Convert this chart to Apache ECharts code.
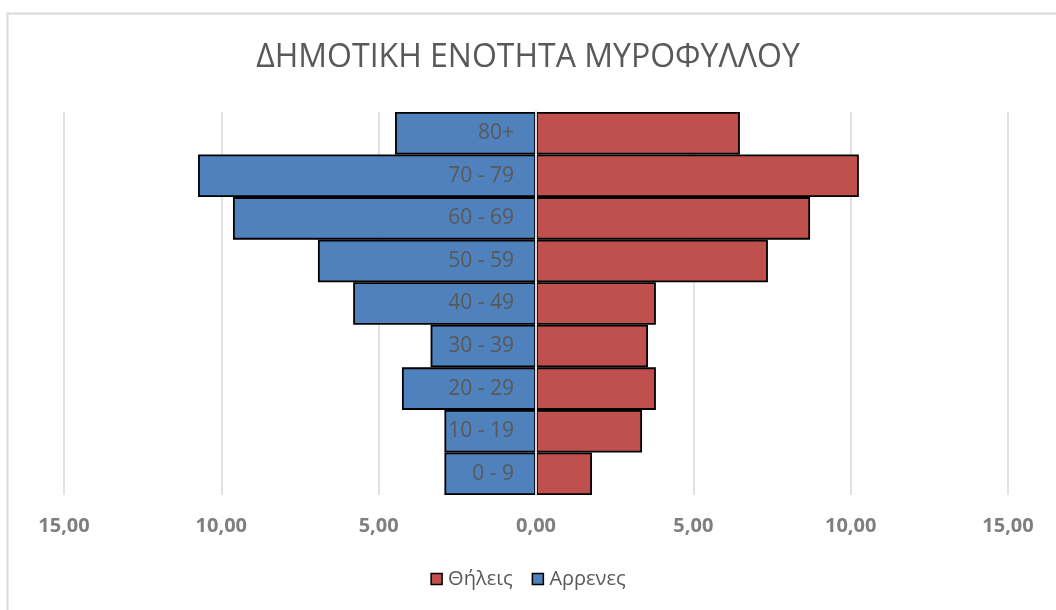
<!DOCTYPE html>
<html>
<head>
<meta charset="utf-8">
<script src="https://cdn.jsdelivr.net/npm/echarts@6/dist/echarts.min.js"></script>
<style>
  html, body { margin: 0; padding: 0; background: #fff; }
  #chart { width: 1056px; height: 610px; }
</style>
</head>
<body>
<div id="chart"></div>
<script>
// age groups, bottom to top
var ageGroups = ['0 - 9', '10 - 19', '20 - 29', '30 - 39', '40 - 49', '50 - 59', '60 - 69', '70 - 79', '80+'];
// percentages
var males = [2.91, 2.91, 4.26, 3.35, 5.81, 6.93, 9.63, 10.74, 4.48];
var females = [1.78, 3.37, 3.81, 3.56, 3.81, 7.37, 8.71, 10.26, 6.48];
var xTicks = [-15, -10, -5, 0, 5, 10, 15];

var chart = echarts.init(document.getElementById('chart'));

function fmt(v) {
  return Math.abs(v).toFixed(2).replace('.', ',');
}

var option = {
  backgroundColor: '#fff',
  animation: false,
  textStyle: { fontFamily: 'Open Sans' },
  title: {
    text: 'ΔΗΜΟΤΙΚΗ ΕΝΟΤΗΤΑ ΜΥΡΟΦΥΛΛΟΥ',
    left: 'center',
    top: 37,
    textStyle: {
      color: '#595959',
      fontSize: 32,
      fontWeight: 'normal',
      fontFamily: 'Open Sans'
    }
  },
  graphic: [{
    type: 'polyline',
    shape: { points: [[7.5, 700], [7.5, 13.5], [1100, 13.5]] },
    style: { stroke: '#d9d9d9', lineWidth: 2, fill: null },
    silent: true
  }],
  legend: {
    bottom: 16,
    left: 'center',
    itemWidth: 11,
    itemHeight: 11,
    itemGap: 19,
    icon: 'rect',
    itemStyle: { borderColor: '#000', borderWidth: 1.5 },
    data: ['Θήλεις', 'Αρρενες'],
    textStyle: { color: '#595959', fontSize: 20, padding: [0, 0, 0, 1] }
  },
  grid: {
    left: 64,
    right: 48,
    top: 112,
    bottom: 115,
    containLabel: false,
    outerBoundsMode: 'none'
  },
  xAxis: {
    type: 'value',
    min: -15,
    max: 15,
    interval: 5,
    axisLine: { show: false },
    axisTick: { show: false },
    splitLine: { lineStyle: { color: '#d9d9d9', width: 1.5 } },
    axisLabel: {
      color: '#7f7f7f',
      fontSize: 20,
      fontWeight: 'bold',
      margin: 21,
      formatter: fmt,
      customValues: xTicks
    }
  },
  yAxis: {
    type: 'category',
    data: ageGroups,
    z: 5,
    offset: -472,
    axisLine: { show: true, onZero: false, lineStyle: { color: '#d9d9d9', width: 2 } },
    axisTick: { show: false },
    splitLine: { show: false },
    axisLabel: {
      color: '#595959',
      fontSize: 21,
      margin: 22
    }
  },
  series: [{
    name: 'Αρρενες',
    type: 'bar',
    stack: 'pop',
    barWidth: '100%',
    itemStyle: { color: '#4f81bd', borderColor: '#000', borderWidth: 1.8 },
    data: males.map(function (v) { return -v; })
  }, {
    name: 'Θήλεις',
    type: 'bar',
    stack: 'pop',
    barWidth: '100%',
    itemStyle: { color: '#c0504d', borderColor: '#000', borderWidth: 1.8 },
    data: females
  }]
};

chart.setOption(option);
</script>
</body>
</html>
